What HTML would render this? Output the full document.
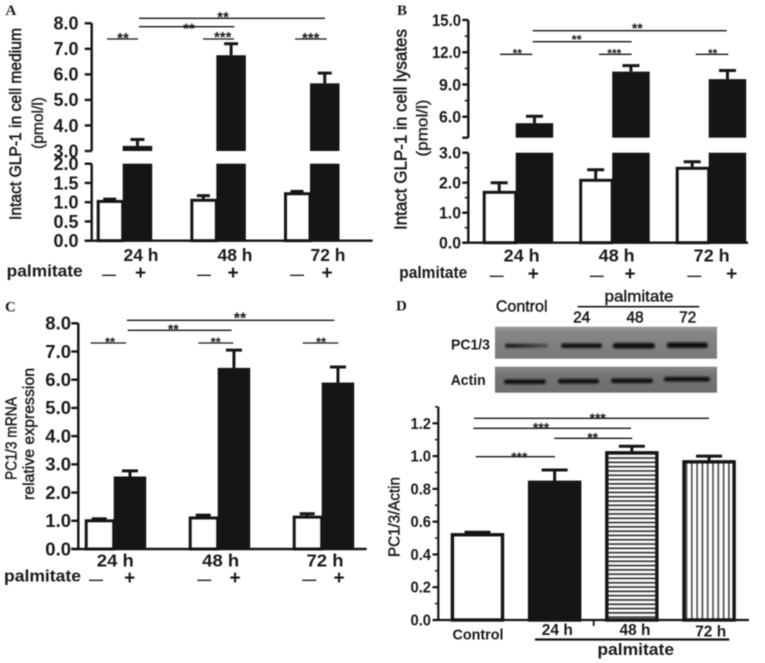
<!DOCTYPE html>
<html lang="en">
<head>
<meta charset="utf-8">
<title>GLP-1 and PC1/3 expression with palmitate</title>
<style>
html,body{margin:0;padding:0;background:#fff;width:765px;height:663px;overflow:hidden}
svg{display:block;filter:blur(.4px)}
text{font-family:"Liberation Sans",sans-serif;fill:#1a1a1a}
</style>
</head>
<body>
<svg id="figure" xmlns="http://www.w3.org/2000/svg" width="765" height="663" viewBox="0 0 765 663">
  <defs>
    <filter id="bandBlur" x="-20%" y="-100%" width="140%" height="300%"><feGaussianBlur stdDeviation="1"/></filter>
    <linearGradient id="fadeBand" x1="0" x2="1" y1="0" y2="0">
      <stop offset="0" stop-color="#141414"/><stop offset=".45" stop-color="#2a2a2a"/><stop offset="1" stop-color="#555"/>
    </linearGradient>
    <linearGradient id="gelTop" x1="0" x2="0" y1="0" y2="1">
      <stop offset="0" stop-color="#9a9a9a"/><stop offset=".2" stop-color="#868686"/><stop offset="1" stop-color="#797979"/>
    </linearGradient>
    <linearGradient id="gelBottom" x1="0" x2="0" y1="0" y2="1">
      <stop offset="0" stop-color="#8a8a8a"/><stop offset=".3" stop-color="#757575"/><stop offset="1" stop-color="#6d6d6d"/>
    </linearGradient>
    <pattern id="hLines" width="6" height="4.3" patternUnits="userSpaceOnUse">
      <rect width="6" height="4.3" fill="#fff"/><rect y="1.4" width="6" height="1.7" fill="#333"/>
    </pattern>
    <pattern id="vLines" width="5.3" height="6" patternUnits="userSpaceOnUse">
      <rect width="5.3" height="6" fill="#fff"/><rect x="2" width="1.6" height="6" fill="#444"/>
    </pattern>
  </defs>
</svg>
<script>
const categories = ['24 h', '48 h', '72 h'];
const treatmentLabel = 'palmitate';

const aControl = [1.02, 1.05, 1.22];
const aControlErr = [0.06, 0.12, 0.06];
const aPalmitate = [3.2, 6.75, 5.65];
const aPalmitateErr = [0.25, 0.45, 0.4];
const aTicksLower = [0, 0.5, 1, 1.5, 2];
const aTicksUpper = [3, 4, 5, 6, 7, 8];

const bControl = [1.68, 2.08, 2.48];
const bControlErr = [0.32, 0.35, 0.22];
const bPalmitate = [5.4, 10.2, 9.5];
const bPalmitateErr = [0.65, 0.55, 0.8];
const bTicksLower = [0, 1, 2, 3];
const bTicksUpper = [6, 9, 12, 15];

const cControl = [1.0, 1.1, 1.13];
const cControlErr = [0.07, 0.1, 0.12];
const cPalmitate = [2.57, 6.42, 5.9];
const cPalmitateErr = [0.2, 0.63, 0.55];
const cTicks = [0, 1, 2, 3, 4, 5, 6, 7, 8];

const dCategories = ['Control', '24 h', '48 h', '72 h'];
const dValues = [0.52, 0.84, 1.02, 0.965];
const dErrors = [0.015, 0.075, 0.04, 0.035];
const dTicks = [0, 0.2, 0.4, 0.6, 0.8, 1.0, 1.2];

const NS = 'http://www.w3.org/2000/svg';
const root = document.getElementById('figure');
const INK = '#151515';

function shape(tag, name, attrs) {
  const el = document.createElementNS(NS, tag);
  
  
  for (const k in attrs) el.setAttribute(k, attrs[k]);
  root.appendChild(el);
  return el;
}
function rect(name, x, y, w, h, fill, extra) {
  return shape('rect', name, Object.assign({x: x, y: y, width: w, height: h, fill: fill}, extra || {}));
}
function line(name, x1, y1, x2, y2, width) {
  return shape('line', name, {x1: x1, y1: y1, x2: x2, y2: y2, stroke: INK, 'stroke-width': width});
}
function label(name, str, x, y, o) {
  o = o || {};
  const a = {x: x, y: y, 'font-size': o.size || 16, 'font-weight': o.weight || 'bold', 'text-anchor': o.anchor || 'middle'};
  if (o.length) { a.textLength = o.length; a.lengthAdjust = 'spacingAndGlyphs'; }
  if (o.rotate) a.transform = 'rotate(-90 ' + x + ' ' + y + ')';
  if (o.serif) a.style = 'font-family:"Liberation Serif",serif';
  if (o.stroke) { a.stroke = INK; a['stroke-width'] = o.stroke; }
  const el = shape('text', name, a);
  el.textContent = str;
  return el;
}
function stars(str, cx, cy, size) {
  const s = size || 15;
  label('significance-stars', str, cx, cy + 0.57 * s, {size: s, weight: 'bold'});
}
function bracket(x1, x2, y, str, cx, cy, size) {
  line('significance-bracket', x1, y, x2, y, 1.3);
  stars(str, cx, cy, size);
}

function makeScale(segments) {
  return function (v) {
    const s = segments.find(function (seg) { return v <= seg.d[1]; }) || segments[segments.length - 1];
    return s.r[0] + (v - s.d[0]) / (s.d[1] - s.d[0]) * (s.r[1] - s.r[0]);
  };
}

function errorBar(name, cx, yVal, yTop, cap) {
  line(name + '-stem', cx, yVal, cx, yTop, 3);
  line(name + '-cap', cx - cap / 2, yTop, cx + cap / 2, yTop, 3);
}

function drawGrouped(p) {
  const y = makeScale(p.segments);
  const baseY = p.segments[0].r[0];
  p.segments.forEach(function (seg, i) {
    line(p.id + '-y-axis-segment-' + i, p.axisX, seg.r[0], p.axisX, seg.r[1], 2.4);
  });
  line(p.id + '-x-axis', p.axisX - p.tickLen, baseY, p.axisEnd, baseY, 2.4);
  p.ticks.forEach(function (t) {
    line(p.id + '-y-tick', p.axisX - p.tickLen, y(t), p.axisX, y(t), 2.4);
    label(p.id + '-y-tick-label', t.toFixed(1), p.labelX, y(t) + p.labelDy, {
      anchor: 'end', size: p.tickSize, length: t.toFixed(1).length === 4 ? p.tickLen4 : p.tickLen3
    });
  });
  (p.minor || []).forEach(function (t) {
    line(p.id + '-y-minor-tick', p.axisX - 3.5, y(t), p.axisX, y(t), 1.6);
  });
  if (p.breakTick !== undefined) line(p.id + '-y-break-tick', p.axisX - p.tickLen, y(p.breakTick), p.axisX, y(p.breakTick), 2.4);
  categories.forEach(function (cat, i) {
    const x = p.first + i * p.step;
    const ctl = p.control[i], pal = p.palmitate[i];
    const wx = x + 1.5, ww = p.whiteW - 1.5;
    errorBar(p.id + '-control-error-' + i, x + p.whiteW / 2, y(ctl), y(ctl + p.controlErr[i]), p.capW);
    rect(p.id + '-control-bar-' + i, wx, y(ctl), ww, baseY - y(ctl), '#fff', {stroke: INK, 'stroke-width': 3});
    const bx = x + p.whiteW;
    const cx = bx + p.blackW / 2;
    errorBar(p.id + '-palmitate-error-' + i, cx, y(pal), y(pal + p.palmitateErr[i]), p.capB);
    if (p.segments.length > 1 && pal > p.segments[0].d[1]) {
      const low = p.segments[0], up = p.segments[1];
      rect(p.id + '-palmitate-bar-lower-' + i, bx, low.r[1], p.blackW, baseY - low.r[1], INK);
      rect(p.id + '-palmitate-bar-upper-' + i, bx, y(pal), p.blackW, up.r[0] - y(pal), INK);
    } else {
      rect(p.id + '-palmitate-bar-' + i, bx, y(pal), p.blackW, baseY - y(pal), INK);
    }
    label(p.id + '-category-label', cat, p.catX[i], p.catY, {size: p.catSize, length: p.catLen});
    label(p.id + '-minus-sign', '\u2014', p.minusX[i], p.signY, {size: 14});
    label(p.id + '-plus-sign', '+', p.plusX[i], p.signY, {size: 19});
  });
  label(p.id + '-treatment-label', treatmentLabel, p.palX, p.palY, {anchor: 'start', size: p.palSize, length: p.palLen});
}

/* Panel A */
label('panel-a-letter', 'A', 5.5, 15, {anchor: 'start', size: 15, serif: true});
drawGrouped({
  id: 'panel-a', axisX: 91.7, axisEnd: 372.7, tickLen: 7,
  segments: [{d: [0, 2], r: [240.7, 163.7]}, {d: [3, 8], r: [151, 23.3]}],
  ticks: aTicksLower.concat(aTicksUpper),
  labelX: 78.5, labelDy: 6.3, tickSize: 18, tickLen3: 25,
  first: 96.7, step: 93.65, whiteW: 26, blackW: 29.5, capW: 13, capB: 14,
  control: aControl, controlErr: aControlErr, palmitate: aPalmitate, palmitateErr: aPalmitateErr,
  catX: [141, 235, 328], catY: 261, catSize: 17.5, catLen: 35,
  minusX: [109, 204, 297], plusX: [140.5, 233, 327], signY: 279,
  palX: 6.7, palY: 276.7, palSize: 17, palLen: 76
});
label('panel-a-y-title', 'Intact GLP-1 in cell medium', 21, 124, {size: 16.5, weight: 'normal', rotate: true, length: 192, stroke: .5});
label('panel-a-y-unit', '(pmol/l)', 43, 123, {size: 15.5, weight: 'normal', rotate: true, length: 52, stroke: .3});
bracket(107, 138, 39, '**', 123, 34.5);
bracket(139, 234.3, 26.7, '**', 189, 25);
bracket(139, 325, 18.3, '**', 223, 13.5);
bracket(203, 234, 39, '***', 222.7, 33.5);
bracket(295, 326.7, 39, '***', 310.7, 34.5);

/* Panel B */
label('panel-b-letter', 'B', 397, 15, {anchor: 'start', size: 15, serif: true});
drawGrouped({
  id: 'panel-b', axisX: 468.3, axisEnd: 748, tickLen: 6,
  segments: [{d: [0, 3], r: [242.7, 152.7]}, {d: [4.05, 15], r: [137.7, 20]}],
  ticks: bTicksLower.concat(bTicksUpper),
  minor: [0.5, 1.5, 2.5, 7.5, 10.5, 13.5],
  breakTick: 4.05,
  labelX: 461, labelDy: 5.8, tickSize: 16.5, tickLen3: 22, tickLen4: 29,
  first: 482.7, step: 96.5, whiteW: 33, blackW: 37.5, capW: 17, capB: 17,
  control: bControl, controlErr: bControlErr, palmitate: bPalmitate, palmitateErr: bPalmitateErr,
  catX: [521.7, 616.7, 711.7], catY: 261.5, catSize: 17.5, catLen: 36,
  minusX: [496.7, 596.7, 694.3], plusX: [533.3, 630, 731.7], signY: 280,
  palX: 399.3, palY: 278, palSize: 16.5, palLen: 68
});
label('panel-b-y-title', 'Intact GLP-1 in cell lysates', 406.7, 129.5, {size: 17.5, weight: 'normal', rotate: true, length: 201, stroke: .5});
label('panel-b-y-unit', '(pmol/l)', 427.7, 128, {size: 16, weight: 'normal', rotate: true, length: 57, stroke: .3});
bracket(500, 532.3, 54.3, '**', 517.3, 50.5, 12);
bracket(532.7, 631.7, 41.7, '**', 576.7, 36.5, 13);
bracket(532.7, 726.7, 30.7, '**', 637.3, 25, 14);
bracket(599, 631.7, 54.3, '***', 614.3, 50.5, 12);
bracket(695.7, 728.3, 54.3, '**', 712.7, 50.5, 12);

/* Panel C */
label('panel-c-letter', 'C', 5, 311.7, {anchor: 'start', size: 15, serif: true});
drawGrouped({
  id: 'panel-c', axisX: 78.3, axisEnd: 366.7, tickLen: 7,
  segments: [{d: [0, 8], r: [549, 323.3]}],
  ticks: cTicks,
  labelX: 71, labelDy: 6.3, tickSize: 18, tickLen3: 25.7,
  first: 84.7, step: 104, whiteW: 29, blackW: 32.5, capW: 15, capB: 16,
  control: cControl, controlErr: cControlErr, palmitate: cPalmitate, palmitateErr: cPalmitateErr,
  catX: [115.3, 220.7, 325], catY: 566.7, catSize: 17.5, catLen: 37,
  minusX: [96, 204.3, 309.3], plusX: [129.7, 235, 339], signY: 584,
  palX: 4, palY: 581.7, palSize: 17, palLen: 77
});
label('panel-c-y-title-line-1', 'PC1/3 mRNA', 16.7, 438.5, {size: 16, weight: 'normal', rotate: true, length: 83, stroke: .4});
label('panel-c-y-title-line-2', 'relative expression', 34, 434, {size: 16, weight: 'normal', rotate: true, length: 132, stroke: .4});
bracket(90.7, 126, 343, '**', 110, 339, 13);
bracket(127.7, 231.7, 330.3, '**', 173.3, 326, 14);
bracket(127, 334.3, 320.3, '**', 240, 314.3, 16);
bracket(198.3, 233.3, 343, '**', 215.7, 339, 13);
bracket(302.7, 338.3, 343, '**', 321, 339, 13);

/* Panel D: western blot */
label('panel-d-letter', 'D', 396, 310.7, {anchor: 'start', size: 15, serif: true});
label('blot-control-label', 'Control', 521.7, 311.7, {size: 15.5, weight: 'normal', length: 51.7, stroke: .4});
label('blot-palmitate-label', treatmentLabel, 639, 301.7, {size: 16, weight: 'normal', length: 69, stroke: .4});
line('blot-palmitate-rule', 577.7, 306.7, 699.3, 306.7, 1.6);
label('blot-lane-24', '24', 581.7, 322.7, {size: 15.5, weight: 'normal', stroke: .5});
label('blot-lane-48', '48', 635, 322.7, {size: 15.5, weight: 'normal', stroke: .5});
label('blot-lane-72', '72', 687.7, 322.7, {size: 15.5, weight: 'normal', stroke: .5});
label('blot-pc13-label', 'PC1/3', 490, 349.3, {anchor: 'end', size: 15, length: 39});
label('blot-actin-label', 'Actin', 450.7, 385, {anchor: 'start', size: 15, length: 35});
rect('blot-pc13-membrane', 495, 326.7, 222, 32, 'url(#gelTop)');
rect('blot-actin-membrane', 495, 366.7, 222, 26, 'url(#gelBottom)');
rect('blot-pc13-band-control', 505, 343.7, 43, 4, 'url(#fadeBand)', {rx: 2, filter: 'url(#bandBlur)'});
rect('blot-pc13-band-24', 561, 343.5, 41, 4.5, '#111', {rx: 2.2, filter: 'url(#bandBlur)'});
rect('blot-pc13-band-48', 612.7, 343, 42.3, 5.5, '#111', {rx: 2.7, filter: 'url(#bandBlur)'});
rect('blot-pc13-band-72', 666.7, 342.5, 41.3, 5.5, '#111', {rx: 2.7, filter: 'url(#bandBlur)'});
rect('blot-actin-band-control', 504, 379.5, 42, 4.5, '#111', {rx: 2.2, filter: 'url(#bandBlur)'});
rect('blot-actin-band-24', 558, 379, 41, 4.5, '#111', {rx: 2.2, filter: 'url(#bandBlur)'});
rect('blot-actin-band-48', 611, 378.5, 42, 4.5, '#111', {rx: 2.2, filter: 'url(#bandBlur)'});
rect('blot-actin-band-72', 664, 377, 46, 4.5, '#111', {rx: 2.2, filter: 'url(#bandBlur)'});

/* Panel D: bar chart */
const dY = makeScale([{d: [0, 1.2], r: [620, 423.3]}]);
const dFirst = 450.7, dStep = 77.2, dBarW = 53.5;
const dFills = ['#fff', INK, 'url(#hLines)', 'url(#vLines)'];
line('panel-d-y-axis', 438.3, 620, 438.3, 406.7, 2.2);
line('panel-d-x-axis', 433, 620, 749, 620, 2.2);
line('panel-d-x-axis-break-tick', 593.7, 620, 593.7, 626, 1.8);
dTicks.forEach(function (t) {
  line('panel-d-y-tick', 432.5, dY(t), 438.3, dY(t), 2.2);
  label('panel-d-y-tick-label', t.toFixed(1), 431, dY(t) + 5.5, {anchor: 'end', size: 15.5, length: 20.5});
});
[0.1, 0.3, 0.5, 0.7, 0.9, 1.1, 1.3].forEach(function (t) {
  line('panel-d-y-minor-tick', 435, dY(t), 438.3, dY(t), 1.5);
});
dCategories.forEach(function (c, i) {
  const x = dFirst + i * dStep;
  errorBar('panel-d-error-' + i, x + dBarW / 2, dY(dValues[i]), dY(dValues[i] + dErrors[i]), 26);
  rect('panel-d-bar-' + c.replace(' ', '-').toLowerCase(), x + 1.7, dY(dValues[i]), dBarW - 3.4, 620 - dY(dValues[i]), dFills[i], {stroke: INK, 'stroke-width': 3.4});
});
label('panel-d-label-control', dCategories[0], 478, 639.3, {size: 15, length: 51});
label('panel-d-label-24h', dCategories[1], 557.3, 635, {size: 16, length: 31});
label('panel-d-label-48h', dCategories[2], 635, 635, {size: 16, length: 31});
label('panel-d-label-72h', dCategories[3], 710.7, 636.7, {size: 16, length: 31});
line('panel-d-palmitate-rule', 535, 639.5, 729.3, 639.5, 2.2);
label('panel-d-palmitate-label', treatmentLabel, 635.7, 655, {size: 17, length: 76.7});
label('panel-d-y-title', 'PC1/3/Actin', 399.7, 517, {size: 15.5, weight: 'normal', rotate: true, length: 80, stroke: .4});
bracket(475.7, 555, 456.7, '***', 519.3, 454, 14);
bracket(554.3, 632.3, 438.3, '**', 592.7, 434.3, 14);
bracket(473.3, 631, 428.3, '***', 541, 424.7, 14);
bracket(474, 709, 418.3, '***', 597.7, 415, 14);
</script>
</body>
</html>
